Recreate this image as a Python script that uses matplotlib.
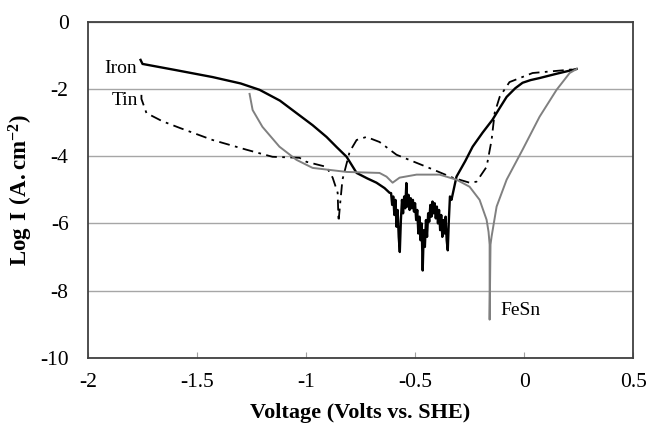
import matplotlib
matplotlib.use("Agg")
import matplotlib.pyplot as plt

plt.rcParams['font.family'] = ['Liberation Serif', 'DejaVu Serif']
plt.rcParams['mathtext.fontset'] = 'custom'
plt.rcParams['mathtext.rm'] = 'Liberation Serif'
plt.rcParams['mathtext.bf'] = 'Liberation Serif:bold'
plt.rcParams['axes.unicode_minus'] = False

# Iron: smooth cathodic branch, noisy passive region, anodic branch
iron_v = [-1.759, -1.750, -1.600, -1.429, -1.300, -1.213, -1.120, -1.044, -0.970, -0.906, -0.860, -0.814,
          -0.768, -0.720, -0.677, -0.640, -0.617,
          -0.610, -0.605, -0.600, -0.595, -0.590, -0.585, -0.580, -0.575, -0.570, -0.565,
          -0.560, -0.555, -0.550, -0.545, -0.540, -0.535, -0.530, -0.525, -0.520, -0.515,
          -0.510, -0.505, -0.500, -0.495, -0.490, -0.485, -0.480, -0.475, -0.470, -0.465,
          -0.460, -0.455, -0.450, -0.445, -0.440, -0.435, -0.430, -0.425, -0.420, -0.415,
          -0.410, -0.405, -0.400, -0.395, -0.390, -0.385, -0.380, -0.375, -0.370, -0.365,
          -0.360, -0.355, -0.350, -0.345, -0.340,
          -0.333, -0.310, -0.270, -0.236, -0.190, -0.145, -0.110, -0.080, -0.040, -0.007,
          0.030, 0.071, 0.150, 0.241]
iron_log = [-1.14, -1.26, -1.44, -1.65, -1.84, -2.03, -2.35, -2.72, -3.08, -3.43, -3.73, -4.02,
            -4.50, -4.66, -4.79, -4.95, -5.09,
            -5.10, -5.45, -5.20, -5.75, -5.30, -6.10, -5.60, -6.40, -6.85, -5.90,
            -5.30, -5.70, -5.20, -5.55, -4.80, -5.50, -5.15, -5.60, -5.25, -5.55,
            -5.30, -5.65, -5.40, -5.90, -5.60, -6.30, -5.80, -6.50, -6.00, -7.40,
            -6.20, -6.70, -5.90, -6.40, -5.70, -5.95, -5.45, -5.80, -5.35, -5.70,
            -5.40, -5.85, -5.50, -6.00, -5.60, -6.20, -5.75, -6.40, -5.90, -6.30,
            -5.80, -6.50, -6.80, -5.90, -5.20,
            -5.30, -4.61, -4.15, -3.72, -3.30, -2.92, -2.55, -2.24, -1.98, -1.82,
            -1.74, -1.68, -1.55, -1.41]

# Tin
tin_v = [-1.755, -1.755, -1.732, -1.660, -1.580, -1.429, -1.273, -1.154, -1.030, -0.998, -0.906,
         -0.878, -0.855, -0.851, -0.842, -0.833, -0.800, -0.768, -0.723, -0.663, -0.585, -0.447,
         -0.328, -0.250, -0.218, -0.172, -0.149, -0.135, -0.112, -0.067, 0.039, 0.195, 0.241]
tin_log = [-2.18, -2.30, -2.72, -2.96, -3.16, -3.52, -3.81, -4.02, -4.05, -4.17, -4.32,
           -4.64, -5.09, -5.95, -5.30, -4.70, -3.87, -3.52, -3.43, -3.58, -3.96, -4.32,
           -4.64, -4.79, -4.76, -4.32, -3.52, -2.72, -2.24, -1.80, -1.53, -1.44, -1.41]

# FeSn
fesn_v = [-1.259, -1.245, -1.200, -1.122, -1.044, -0.970, -0.814, -0.663, -0.631, -0.603, -0.571,
          -0.493, -0.388, -0.310, -0.250, -0.204, -0.172, -0.163, -0.158, -0.158, -0.154, -0.149,
          -0.126, -0.080, -0.007, 0.071, 0.149, 0.209, 0.241]
fesn_log = [-2.15, -2.63, -3.13, -3.72, -4.11, -4.35, -4.47, -4.50, -4.61, -4.79, -4.64,
            -4.55, -4.55, -4.70, -4.91, -5.30, -5.89, -6.25, -6.63, -8.86, -6.63, -6.39,
            -5.50, -4.70, -3.81, -2.83, -2.03, -1.53, -1.41]

x_ticks = [-2, -1.5, -1, -0.5, 0, 0.5]
x_tick_labels = ['-2', '-1.5', '-1', '-0.5', '0', '0.5']
y_ticks = [0, -2, -4, -6, -8, -10]

fig = plt.figure(figsize=(6.5, 4.24), dpi=100)
ax = fig.add_axes([0.1354, 0.1557, 0.8386, 0.7935])

ax.plot(iron_v, iron_log, color='black', lw=1.7)
ax.plot(tin_v, tin_log, color='black', lw=1.3, linestyle=(0, (6, 3, 1.5, 3)))
ax.plot(fesn_v, fesn_log, color='#808080', lw=1.4)

ax.text(-1.85, -1.41, 'Iron', fontsize=14, ha='center', va='center')
ax.text(-1.83, -2.36, 'Tin', fontsize=14, ha='center', va='center')
ax.text(-0.107, -8.59, 'FeSn', fontsize=14, ha='left', va='center')

ax.set_xlim(-2, 0.5)
ax.set_ylim(-10, 0)
ax.set_xticks(x_ticks)
ax.set_xticklabels(x_tick_labels)
ax.set_yticks(y_ticks)
ax.yaxis.grid(True, color='#a6a6a6', lw=1.0)
ax.set_axisbelow(True)
ax.tick_params(axis='x', direction='in', length=4, color='#a0a0a0', labelsize=15.5, pad=11)
ax.tick_params(axis='y', length=0, labelsize=15.5, pad=14)
for s in ax.spines.values():
    s.set_color('#404040')
    s.set_linewidth(1.3)

ax.set_xlabel('Voltage (Volts vs. SHE)', fontsize=16, fontweight='bold', labelpad=8)
ax.set_ylabel(r'$\mathbf{Log\ I\ (A{.}cm^{-2})}$', fontsize=16.5)
ax.yaxis.set_label_coords(-0.098, 0.50)

fig.savefig('out.png', dpi=100)
